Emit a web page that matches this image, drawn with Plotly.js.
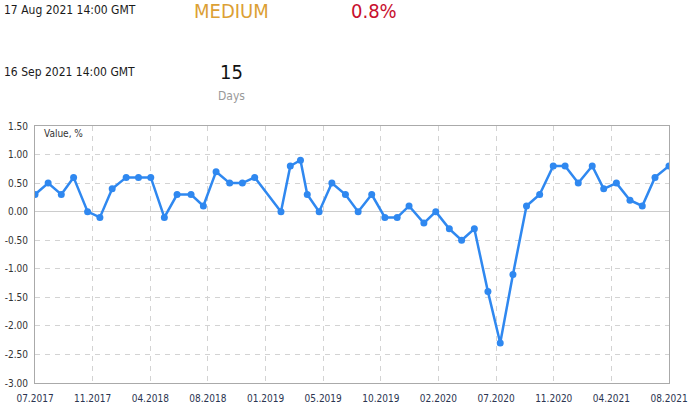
<!DOCTYPE html>
<html>
<head>
<meta charset="utf-8">
<script src="https://cdn.plot.ly/plotly-3.0.1.min.js"></script>
<style>
  html, body { margin: 0; padding: 0; background: #ffffff; }
  #chart { width: 689px; height: 404px; }
</style>
</head>
<body>
<div id="chart"></div>
<script>
// ---- data ----
const releaseDates = [
  '2017-07-14','2017-08-14','2017-09-14','2017-10-13','2017-11-15','2017-12-14',
  '2018-01-12','2018-02-14','2018-03-15','2018-04-13','2018-05-15','2018-06-14',
  '2018-07-17','2018-08-15','2018-09-14','2018-10-16','2018-11-15','2018-12-14',
  '2019-02-14','2019-03-08','2019-04-01','2019-04-17','2019-05-15','2019-06-14',
  '2019-07-16','2019-08-15','2019-09-16','2019-10-17','2019-11-15','2019-12-13',
  '2020-01-17','2020-02-14','2020-03-17','2020-04-15','2020-05-15','2020-06-16',
  '2020-07-15','2020-08-14','2020-09-15','2020-10-16','2020-11-17','2020-12-15',
  '2021-01-15','2021-02-17','2021-03-16','2021-04-15','2021-05-17','2021-06-15',
  '2021-07-15','2021-08-17'
];
const values = [
  0.3, 0.5, 0.3, 0.6, 0.0, -0.1,
  0.4, 0.6, 0.6, 0.6, -0.1, 0.3,
  0.3, 0.1, 0.7, 0.5, 0.5, 0.6,
  0.0, 0.8, 0.9, 0.3, 0.0, 0.5,
  0.3, 0.0, 0.3, -0.1, -0.1, 0.1,
  -0.2, 0.0, -0.3, -0.5, -0.3, -1.4,
  -2.3, -1.1, 0.1, 0.3, 0.8, 0.8,
  0.5, 0.8, 0.4, 0.5, 0.2, 0.1,
  0.6, 0.8
];
const xTickLabels = ['07.2017','11.2017','04.2018','08.2018','01.2019','05.2019',
                     '10.2019','02.2020','07.2020','11.2020','04.2021','08.2021'];
const yTickValues = [1.5, 1.0, 0.5, 0.0, -0.5, -1.0, -1.5, -2.0, -2.5, -3.0];
const yTickLabels = ['1.50','1.00','0.50','0.00','-0.50','-1.00','-1.50','-2.00','-2.50','-3.00'];
const header = {
  lastDate: '17 Aug 2021 14:00 GMT',
  importance: 'MEDIUM',
  lastValue: '0.8%',
  nextDate: '16 Sep 2021 14:00 GMT',
  daysLeft: '15',
  daysLabel: 'Days',
  axisCaption: 'Value, %'
};

// ---- layout helpers ----
const FONT = '"DejaVu Sans Condensed", "DejaVu Sans", Verdana, sans-serif';
const t0 = new Date(releaseDates[0] + 'T00:00:00Z').getTime();
const t1 = new Date(releaseDates[releaseDates.length - 1] + 'T00:00:00Z').getTime();
const n = xTickLabels.length - 1;
const xTickVals = xTickLabels.map((_, i) => new Date(t0 + (t1 - t0) * i / n).toISOString());

const trace = {
  type: 'scatter',
  mode: 'lines+markers',
  x: releaseDates,
  y: values,
  line: { color: '#2f88f0', width: 2.5 },
  marker: { color: '#2f88f0', size: 7 },
  hoverinfo: 'x+y',
  showlegend: false
};

function ann(text, px, py, xanchor, size, color) {
  return {
    text: text, xref: 'paper', yref: 'paper',
    x: (px - 35) / 634, y: (383 - py) / 257,
    xanchor: xanchor, yanchor: 'middle', showarrow: false,
    font: { family: FONT, size: size, color: color }
  };
}

const layout = {
  width: 689, height: 404,
  margin: { l: 35, r: 20, t: 126, b: 21, pad: 0 },
  paper_bgcolor: '#ffffff', plot_bgcolor: '#ffffff',
  font: { family: FONT, size: 10, color: '#333333' },
  xaxis: {
    type: 'date',
    range: [new Date(t0).toISOString(), new Date(t1).toISOString()],
    tickmode: 'array', tickvals: xTickVals, ticktext: xTickLabels,
    showgrid: true, gridcolor: '#d3d3d3', gridwidth: 1, griddash: '5px,5px',
    showline: true, linecolor: '#aaaaaa', linewidth: 1, mirror: true,
    ticks: '', zeroline: false, ticklabelstandoff: 6,
    tickfont: { family: FONT, size: 10, color: '#2b3550' },
    fixedrange: true
  },
  yaxis: {
    range: [-3, 1.5],
    tickmode: 'array', tickvals: yTickValues, ticktext: yTickLabels,
    showgrid: true, gridcolor: '#d3d3d3', gridwidth: 1, griddash: '5px,5px',
    zeroline: true, zerolinecolor: '#cccccc', zerolinewidth: 1,
    showline: true, linecolor: '#aaaaaa', linewidth: 1, mirror: true,
    ticks: '', ticklabelstandoff: 4,
    tickfont: { family: FONT, size: 10, color: '#333333' },
    fixedrange: true
  },
  annotations: [
    ann(header.lastDate, 2, 10, 'left', 12, '#1a1a1a'),
    ann(header.importance, 231, 11, 'center', 20, '#dca034'),
    ann(header.lastValue, 349, 11, 'left', 20, '#c8102e'),
    ann(header.nextDate, 2, 72, 'left', 12, '#1a1a1a'),
    ann(header.daysLeft, 231, 72, 'center', 20, '#111111'),
    ann(header.daysLabel, 231, 96, 'center', 12, '#999999'),
    ann(header.axisCaption, 42, 133, 'left', 10, '#333333')
  ]
};

Plotly.newPlot('chart', [trace], layout, { displayModeBar: false, responsive: false });
</script>
</body>
</html>
